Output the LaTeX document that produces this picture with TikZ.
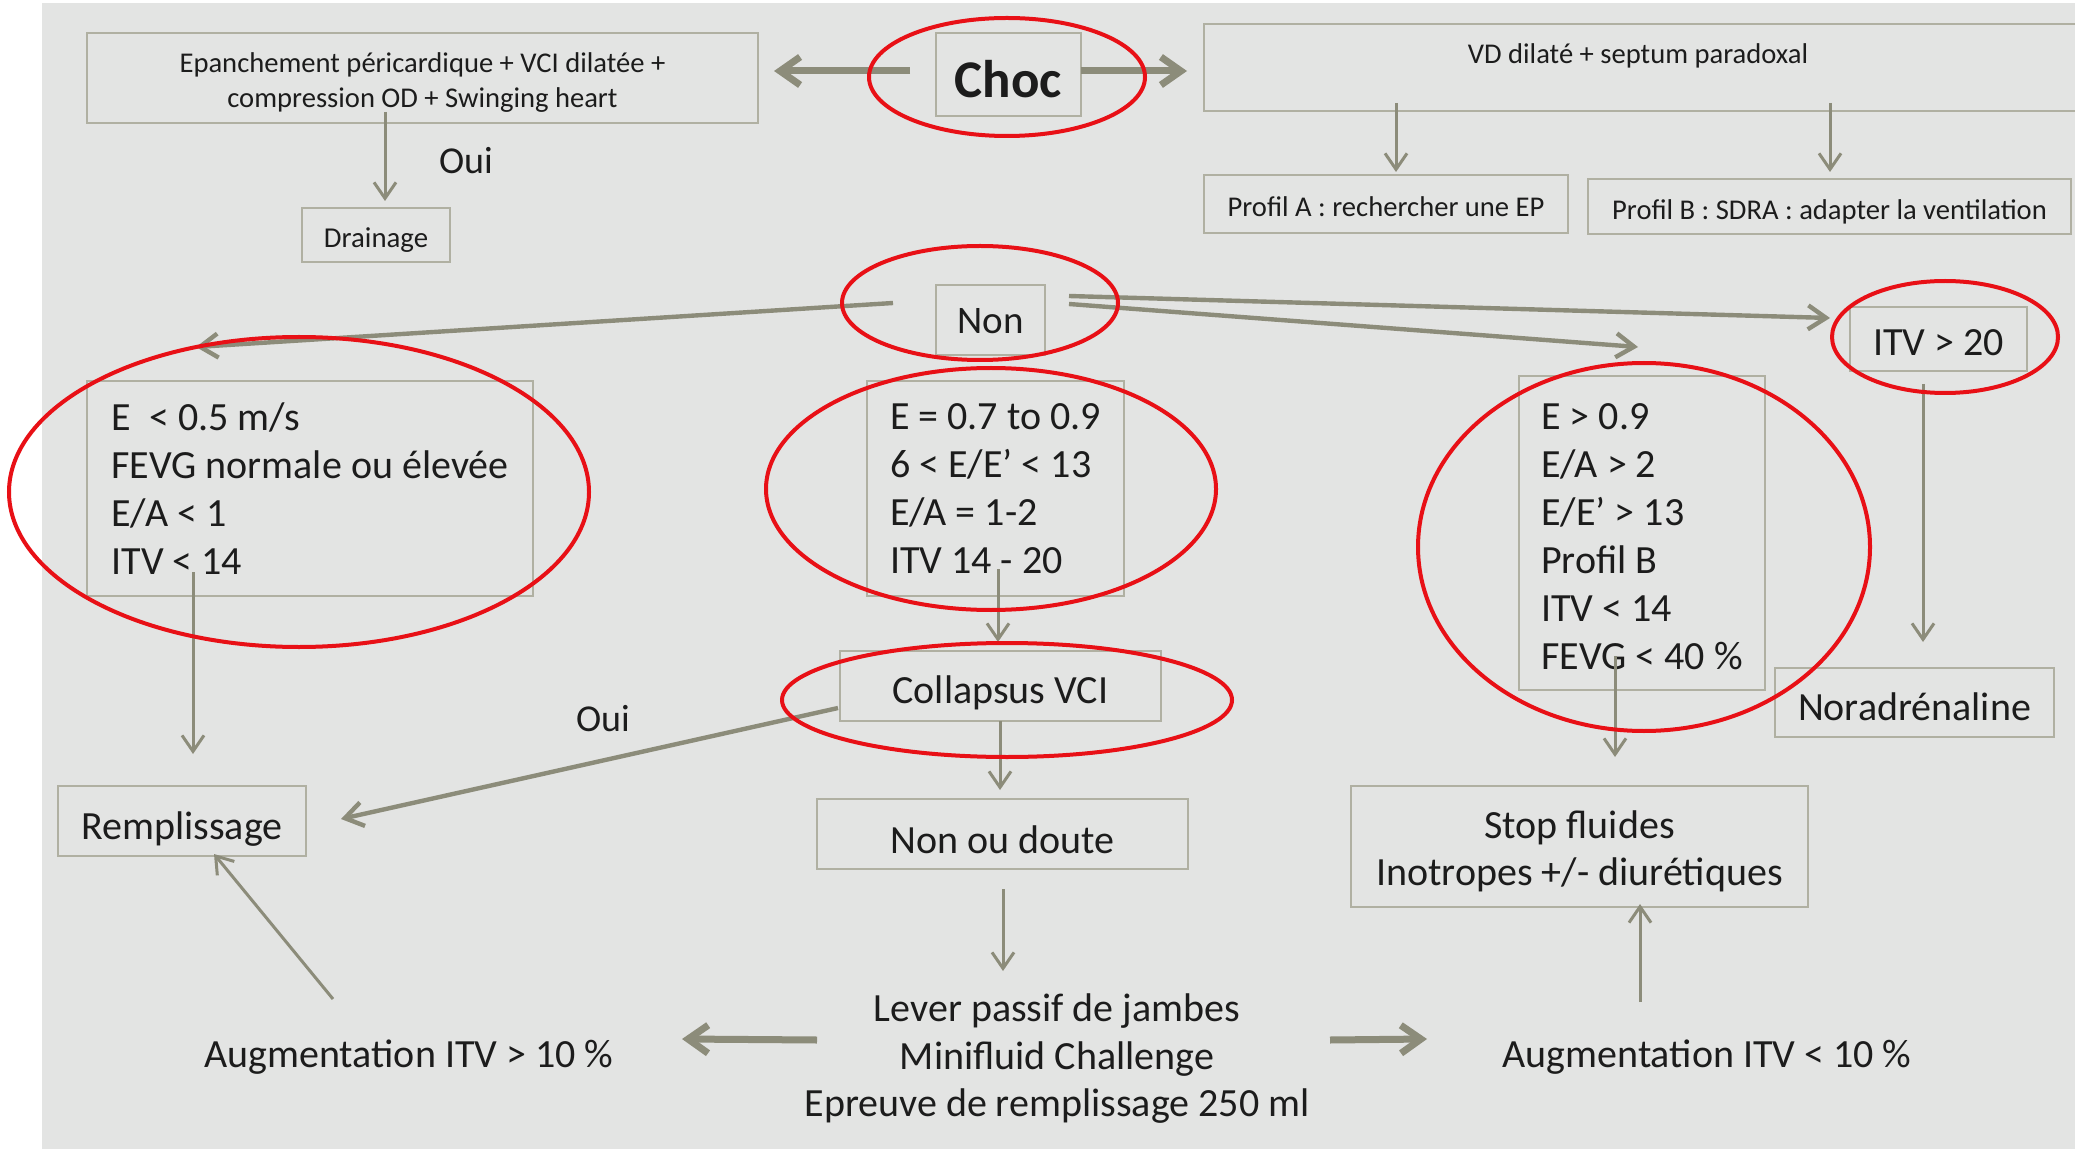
\documentclass[tikz,border=0pt]{standalone}
\usepackage{fontspec}
\setmainfont{Carlito}
\usetikzlibrary{arrows.meta,calc}

\definecolor{bgcol}{RGB}{227,228,227}
\definecolor{boxcol}{RGB}{176,176,162}
\definecolor{arrcol}{RGB}{140,140,122}
\definecolor{ringcol}{RGB}{232,16,22}
\definecolor{txtcol}{RGB}{28,28,28}

\newcommand{\setsz}[2]{\fontsize{#1}{#2}\selectfont}

\tikzset{
  box/.style={draw=boxcol, line width=1.2pt, inner sep=0pt, align=center,
              text=txtcol, font=\setsz{20pt}{24pt}},
  small/.style={font=\setsz{14.3pt}{17.2pt}},
  lbl/.style={inner sep=0pt, align=center, text=txtcol, font=\setsz{20pt}{23.75pt}},
  seat/.style={text height=#1, text depth=0pt},
  link/.style={draw=arrcol, line width=1.5pt, -{Straight Barb[length=8pt,width=11pt]}},
  midlink/.style={link, line width=2.2pt, -{Straight Barb[length=9pt,width=12pt]}},
  fatlink/.style={link, line width=3.5pt, -{Straight Barb[length=10pt,width=14pt]}},
  ring/.style={draw=ringcol, line width=2pt}
}

\begin{document}
\begin{tikzpicture}[x=0.5pt, y=-0.5pt]
  \useasboundingbox (0,0) rectangle (2075,1149);
  \clip (0,0) rectangle (2075,1149);
  \fill[white] (0,0) rectangle (2075,1149);
  \fill[bgcol] (42,3) rectangle (2075,1149);

  % ---- top row
  \node[box, seat=23pt, minimum width=72.5pt, minimum height=41.5pt,
        font=\setsz{26.5pt}{30pt}\bfseries] (choc) at (1008.5,74.5) {Choc};
  \node[box, small, seat=29.4pt, minimum width=335.5pt, minimum height=45pt] (epan) at (422.5,78)
        {Epanchement péricardique + VCI dilatée +\\compression OD + Swinging heart};
  \node[box, minimum width=443pt, minimum height=43.5pt] (vd) at (1647,67.5) {};
  \node[lbl, small] (vdtext) at (1638,55.5) {VD dilaté + septum paradoxal};
  \node[box, small, seat=13pt, minimum width=182pt, minimum height=29pt] (profA) at (1386,204)
        {Profil A : rechercher une EP};
  \node[box, small, seat=13pt, minimum width=241.5pt, minimum height=27.5pt] (profB) at (1829.5,206.5)
        {Profil B : SDRA : adapter la ventilation};
  \node[box, seat=13pt, font=\setsz{14.4pt}{17pt}, minimum width=74pt, minimum height=27pt] (drain) at (376,235)
        {Drainage};
  \node[lbl, font=\setsz{19pt}{22pt}] (oui1) at (466,161) {Oui};

  % ---- second level
  \node[box, seat=14pt, font=\setsz{19.5pt}{22pt}, minimum width=54.5pt, minimum height=35pt] (non) at (990.5,320) {Non};
  \node[box, align=left, minimum width=223pt, minimum height=107.5pt] (bl) at (310,488.5)
        {E~ < 0.5 m/s\\FEVG normale ou élevée\\E/A < 1\\ITV < 14};
  \node[box, align=left, minimum width=128.5pt, minimum height=107.5pt] (bm) at (995.5,488.5)
        {E = 0.7 to 0.9\\6 < E/E’ < 13\\E/A = 1-2\\ITV 14 - 20};
  \node[box, align=left, seat=136.5pt, minimum width=123pt, minimum height=157pt] (br) at (1642,533)
        {E > 0.9\\E/A > 2\\E/E’ > 13\\Profil B\\ITV < 14\\FEVG < 40 \%};
  \node[box, seat=17pt, minimum width=88.5pt, minimum height=32pt] (itv) at (1938.5,339) {ITV > 20};
  \node[box, seat=18pt, minimum width=139.5pt, minimum height=34.5pt] (nora) at (1914.5,702.5) {Noradrénaline};

  % ---- lower part
  \node[box, seat=17.5pt, minimum width=160.5pt, minimum height=35pt] (coll) at (1000.5,686) {Collapsus VCI};
  \node[box, seat=19pt, minimum width=185.5pt, minimum height=35pt] (doute) at (1002.5,834) {Non ou doute};
  \node[box, seat=18pt, minimum width=124pt, minimum height=35pt] (rempl) at (182,821) {Remplissage};
  \node[box, seat=38.5pt, minimum width=228.5pt, minimum height=60.5pt, font=\setsz{20pt}{23.5pt}] (stop) at (1579.5,846.5)
        {Stop fluides\\Inotropes +/- diurétiques};
  \node[lbl, font=\setsz{19pt}{22pt}] (oui2) at (603,719) {Oui};
  \node[lbl] (lever) at (1057,1059)
        {Lever passif de jambes\\Minifluid Challenge\\Epreuve de remplissage 250 ml};
  \node[lbl] (augL) at (409,1057) {Augmentation ITV > 10 \%};
  \node[lbl] (augR) at (1707,1057) {Augmentation ITV < 10 \%};

  % ---- connectors
  \draw[fatlink] ($(choc)+(-98.5,-3.5)$) -- ($(epan)+(351.5,-7)$);
  \draw[fatlink] ($(choc)+(72.5,-3.5)$) -- ($(vd)+(-460,3.5)$);
  \draw[link] ($(vd)+(-251,35.5)$) -- ($(profA)+(10,-32)$);
  \draw[link] ($(vd)+(183,35.5)$) -- ($(profB)+(0.5,-34.5)$);
  \draw[link] ($(epan)+(-37.5,34)$) -- ($(drain)+(9,-34)$);

  \draw[midlink] ($(non)+(-97.5,-17)$) -- ($(bl)+(-114,-141.5)$);
  \draw[midlink] ($(non)+(78.5,-24)$) -- ($(itv)+(-108.5,-21)$);
  \draw[midlink] ($(non)+(78.5,-16)$) -- ($(br)+(-4,-186)$);

  \draw[link] ($(bl)+(-117,83.5)$) -- ($(rempl)+(11,-67)$);
  \draw[link] ($(bm)+(2.5,80.5)$) -- ($(coll)+(-2.5,-44)$);
  \draw[midlink] ($(coll)+(-162.5,22)$) -- ($(rempl)+(159,-2)$);
  \draw[link] ($(coll)+(-0.5,35)$) -- ($(doute)+(-2.5,-44)$);
  \draw[link] ($(doute)+(0.5,55)$) -- ($(lever)+(-54,-88)$);
  \draw[fatlink] ($(lever)+(-240,-19)$) -- ($(augL)+(273,-18)$);
  \draw[fatlink] ($(lever)+(273,-19)$) -- ($(augR)+(-280,-18)$);
  \draw[link] ($(augL)+(-76,-58)$) -- ($(rempl)+(32,33)$);
  \draw[link] ($(augR)+(-67,-55)$) -- ($(stop)+(60.5,57.5)$);
  \draw[link] ($(br)+(-27,123)$) -- ($(stop)+(35.5,-89.5)$);
  \draw[link] ($(itv)+(-15.5,45)$) -- ($(nora)+(8.5,-60.5)$);

  % ---- red highlight rings
  \draw[ring] (1007,77) ellipse [x radius=138, y radius=59];
  \draw[ring] (980,303) ellipse [x radius=138, y radius=57];
  \draw[ring] (299,492) ellipse [x radius=290, y radius=155];
  \draw[ring] (991,489) ellipse [x radius=225, y radius=121];
  \draw[ring] (1007,700) ellipse [x radius=225, y radius=57];
  \draw[ring] (1644,547) ellipse [x radius=226, y radius=184];
  \draw[ring] (1945,337) ellipse [x radius=113, y radius=56];
\end{tikzpicture}
\end{document}
